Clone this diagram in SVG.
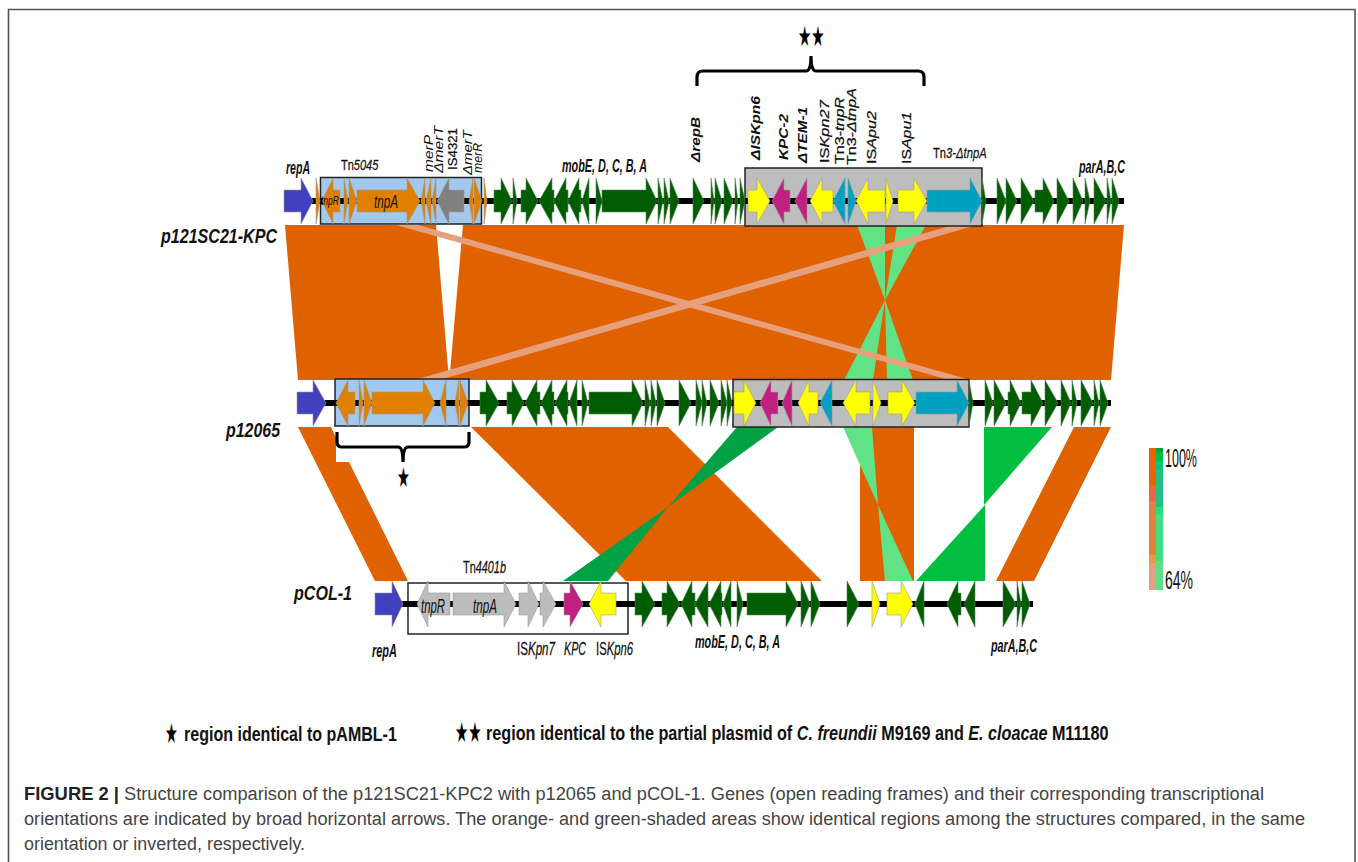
<svg xmlns="http://www.w3.org/2000/svg" width="1358" height="862" viewBox="0 0 1358 862">
<style>
text{font-family:"Liberation Sans",Arial,sans-serif;fill:#111}
.i{font-style:italic}.b{font-weight:bold}.bi{font-style:italic;font-weight:bold}
.m{stroke:#111;stroke-width:.25}
.star{font-family:"DejaVu Sans",sans-serif;font-size:28px;fill:#000}
.cap{font-size:18px;fill:#444}
.track{stroke:#000;stroke-width:6}
.gene polygon{stroke:#9a9a9a;stroke-width:.6}
.bl{fill:#4040c0}.or{fill:#e08000}.gy{fill:#808080}.lg{fill:#bcbcbc}.gn{fill:#005c00;stroke:#5a8a5a!important}.ye{fill:#ff0}.ma{fill:#c02080}.te{fill:#00a0c0}
.box{stroke:#222;stroke-width:1.5}
.o{fill:#e06100}.p{fill:#e6a07c}.g1{fill:#61e385}.g2{fill:#00a145}.g3{fill:#00bf40}
.brace{fill:none;stroke:#000;stroke-width:3.2}
</style>
<rect width="1358" height="862" fill="#fff"/>
<path d="M8.5 862V9.5H1355V862" fill="none" stroke="#555" stroke-width="1.6"/>

<g id="connectors">
<polygon class="o" points="285,225 436,225 449,380 298,380"/>
<polygon class="o" points="463,225 1124,225 1111,380 447,380 450,372"/>
<polygon class="g1" points="857,225 885,225 885,300"/>
<polygon class="g1" points="897,225 926,225 885,300"/>
<polygon class="g1" points="885,300 844,380 873,380"/>
<polygon class="g1" points="885,300 887,380 913,380"/>
<polygon class="p" points="396,225 418,225 971,380 949,380"/>
<polygon class="p" points="953,225 977,225 439,380 414,380"/>
<polygon class="o" points="298,427 331,427 336,438 336,462 349,462 408,581 375,581"/>
<polygon class="o" points="471,427 668,427 822,581 626,581"/>
<rect class="o" x="860" y="427" width="54" height="154"/>
<polygon class="o" points="1074,427 1111,427 1034,581 996,581"/>
<polygon class="g2" points="737,427 778,427 668,507"/>
<polygon class="g2" points="668,507 563,581 608,581"/>
<polygon class="g1" points="843,427 872,427 878,505"/>
<polygon class="g1" points="878,505 885,581 913,581"/>
<polygon class="g3" points="984,427 1052,427 984,505"/>
<polygon class="g3" points="985,505 985,581 916,581"/>
</g>

<g id="p121SC21-KPC" transform="translate(0,201)">
<rect class="box" x="320.5" y="-23.5" width="161" height="46.5" fill="#a3c8ee"/>
<rect class="box" x="745" y="-33" width="237" height="58" fill="#bdbdbd"/>
<line class="track" x1="284" x2="1124" y1="0" y2="0"/>
<g class="gene">
<polygon class="bl" points="284,-11 301,-11 301,-23 313,0 301,23 301,11 284,11"/>
<polygon class="or" points="316,-23 320,0 316,23"/>
<polygon class="or" points="340,-11 333,-11 333,-23 322,0 333,23 333,11 340,11"/>
<polygon class="or" points="344,-23 348,0 344,23"/>
<polygon class="or" points="349,-23 357,0 349,23"/>
<polygon class="or" points="357,-11 407,-11 407,-23 420,0 407,23 407,11 357,11"/>
<polygon class="or" points="425,-23 421,0 425,23"/>
<polygon class="or" points="431,-23 426,0 431,23"/>
<polygon class="or" points="436,-23 432,0 436,23"/>
<polygon class="gy" points="464,-11 449,-11 449,-23 437,0 449,23 449,11 464,11"/>
<polygon class="or" points="473,-23 469,0 473,23"/>
<polygon class="or" points="474,-23 482,0 474,23"/>
<polygon class="or" points="484,-23 487,0 484,23"/>
<polygon class="gn" points="494,-11 501,-11 501,-23 512,0 501,23 501,11 494,11"/>
<polygon class="gn" points="513,-23 517,0 513,23"/>
<polygon class="gn" points="521,-11 526,-11 526,-23 538,0 526,23 526,11 521,11"/>
<polygon class="gn" points="554,-11 552,-11 552,-23 539,0 552,23 552,11 554,11"/>
<polygon class="gn" points="568,-11 566,-11 566,-23 554,0 566,23 566,11 568,11"/>
<polygon class="gn" points="581,-11 579,-11 579,-23 568,0 579,23 579,11 581,11"/>
<polygon class="gn" points="589,-23 582,0 589,23"/>
<polygon class="gn" points="596,-23 602,0 596,23"/>
<polygon class="gn" points="602,-11 646,-11 646,-23 657,0 646,23 646,11 602,11"/>
<polygon class="gn" points="658,-23 663,0 658,23"/>
<polygon class="gn" points="664,-23 669,0 664,23"/>
<polygon class="gn" points="670,-23 679,0 670,23"/>
<polygon class="gn" points="693,-23 704,0 693,23"/>
<polygon class="gn" points="711,-23 714,0 711,23"/>
<polygon class="gn" points="715,-23 722,0 715,23"/>
<polygon class="gn" points="724,-23 733,0 724,23"/>
<polygon class="gn" points="735,-23 738,0 735,23"/>
<polygon class="gn" points="740,-23 745,0 740,23"/>
<polygon class="ye" points="748,-11 757,-11 757,-23 770,0 757,23 757,11 748,11"/>
<polygon class="ma" points="790,-11 784,-11 784,-23 772,0 784,23 784,11 790,11"/>
<polygon class="ma" points="807,-23 795,0 807,23"/>
<polygon class="ye" points="833,-11 822,-11 822,-23 810,0 822,23 822,11 833,11"/>
<polygon class="te" points="845,-23 833,0 845,23"/>
<polygon class="te" points="848,-23 856,0 848,23"/>
<polygon class="ye" points="885,-11 868,-11 868,-23 856,0 868,23 868,11 885,11"/>
<polygon class="ye" points="886,-23 893,0 886,23"/>
<polygon class="ye" points="898,-11 914,-11 914,-23 927,0 914,23 914,11 898,11"/>
<polygon class="te" points="927,-11 970,-11 970,-23 982,0 970,23 970,11 927,11"/>
<polygon class="gn" points="982,-23 986,0 982,23"/>
<polygon class="gn" points="997,-23 1006,0 997,23"/>
<polygon class="gn" points="1006,-23 1017,0 1006,23"/>
<polygon class="gn" points="1021,-23 1034,0 1021,23"/>
<polygon class="gn" points="1035,-11 1043,-11 1043,-23 1054,0 1043,23 1043,11 1035,11"/>
<polygon class="gn" points="1057,-23 1069,0 1057,23"/>
<polygon class="gn" points="1073,-23 1083,0 1073,23"/>
<polygon class="gn" points="1085,-23 1090,0 1085,23"/>
<polygon class="gn" points="1094,-23 1106,0 1094,23"/>
<polygon class="gn" points="1107,-23 1111,0 1107,23"/>
<polygon class="gn" points="1112,-23 1119,0 1112,23"/>
</g>
</g>

<g id="p12065" transform="translate(0,403)">
<rect class="box" x="335" y="-24" width="134" height="47" fill="#a3c8ee"/>
<rect class="box" x="733" y="-23.5" width="236" height="47.5" fill="#bdbdbd"/>
<line class="track" x1="297" x2="1111" y1="0" y2="0"/>
<g class="gene">
<polygon class="bl" points="297,-11 313,-11 313,-23 326,0 313,23 313,11 297,11"/>
<polygon class="or" points="355,-11 348,-11 348,-23 336,0 348,23 348,11 355,11"/>
<polygon class="or" points="359,-23 363,0 359,23"/>
<polygon class="or" points="364,-23 372,0 364,23"/>
<polygon class="or" points="372,-11 423,-11 423,-23 435,0 423,23 423,11 372,11"/>
<polygon class="or" points="446,-23 440,0 446,23"/>
<polygon class="or" points="459,-23 455,0 459,23"/>
<polygon class="or" points="460,-23 468,0 460,23"/>
<polygon class="gn" points="480,-11 486,-11 486,-23 499,0 486,23 486,11 480,11"/>
<polygon class="gn" points="507,-11 512,-11 512,-23 524,0 512,23 512,11 507,11"/>
<polygon class="gn" points="540,-11 537,-11 537,-23 525,0 537,23 537,11 540,11"/>
<polygon class="gn" points="554,-11 552,-11 552,-23 541,0 552,23 552,11 554,11"/>
<polygon class="gn" points="568,-11 567,-11 567,-23 555,0 567,23 567,11 568,11"/>
<polygon class="gn" points="577,-23 569,0 577,23"/>
<polygon class="gn" points="582,-23 588,0 582,23"/>
<polygon class="gn" points="589,-11 632,-11 632,-23 643,0 632,23 632,11 589,11"/>
<polygon class="gn" points="645,-23 650,0 645,23"/>
<polygon class="gn" points="651,-23 656,0 651,23"/>
<polygon class="gn" points="657,-23 665,0 657,23"/>
<polygon class="gn" points="679,-23 691,0 679,23"/>
<polygon class="gn" points="696,-23 702,0 696,23"/>
<polygon class="gn" points="702,-23 707,0 702,23"/>
<polygon class="gn" points="710,-23 719,0 710,23"/>
<polygon class="gn" points="721,-23 727,0 721,23"/>
<polygon class="gn" points="727,-23 732,0 727,23"/>
<polygon class="ye" points="734,-11 744,-11 744,-23 756,0 744,23 744,11 734,11"/>
<polygon class="ma" points="778,-11 771,-11 771,-23 760,0 771,23 771,11 778,11"/>
<polygon class="ma" points="792,-23 782,0 792,23"/>
<polygon class="ye" points="818,-11 809,-11 809,-23 798,0 809,23 809,11 818,11"/>
<polygon class="te" points="832,-23 820,0 832,23"/>
<polygon class="ye" points="870,-11 856,-11 856,-23 843,0 856,23 856,11 870,11"/>
<polygon class="ye" points="873,-23 881,0 873,23"/>
<polygon class="ye" points="888,-11 902,-11 902,-23 915,0 902,23 902,11 888,11"/>
<polygon class="te" points="916,-11 957,-11 957,-23 969,0 957,23 957,11 916,11"/>
<polygon class="gn" points="969,-23 973,0 969,23"/>
<polygon class="gn" points="985,-23 993,0 985,23"/>
<polygon class="gn" points="994,-23 1006,0 994,23"/>
<polygon class="gn" points="1008,-11 1010,-11 1010,-23 1021,0 1010,23 1010,11 1008,11"/>
<polygon class="gn" points="1022,-11 1031,-11 1031,-23 1043,0 1031,23 1031,11 1022,11"/>
<polygon class="gn" points="1045,-23 1058,0 1045,23"/>
<polygon class="gn" points="1061,-23 1071,0 1061,23"/>
<polygon class="gn" points="1072,-23 1077,0 1072,23"/>
<polygon class="gn" points="1081,-23 1093,0 1081,23"/>
<polygon class="gn" points="1094,-23 1099,0 1094,23"/>
<polygon class="gn" points="1100,-23 1108,0 1100,23"/>
</g>
</g>

<g id="pCOL-1" transform="translate(0,604)">
<rect class="box" x="408" y="-21" width="220" height="51" fill="#fff"/>
<line class="track" x1="376" x2="1033" y1="0" y2="0"/>
<g class="gene">
<polygon class="bl" points="375,-11 392,-11 392,-23 403,0 392,23 392,11 375,11"/>
<polygon class="lg" points="450,-11 428,-11 428,-23 417,0 428,23 428,11 450,11"/>
<polygon class="lg" points="453,-11 504,-11 504,-23 516,0 504,23 504,11 453,11"/>
<polygon class="lg" points="519,-11 528,-11 528,-23 539,0 528,23 528,11 519,11"/>
<polygon class="lg" points="540,-11 543,-11 543,-23 556,0 543,23 543,11 540,11"/>
<polygon class="ma" points="564,-11 570,-11 570,-23 583,0 570,23 570,11 564,11"/>
<polygon class="ye" points="616,-11 601,-11 601,-23 589,0 601,23 601,11 616,11"/>
<polygon class="gn" points="635,-11 642,-11 642,-23 655,0 642,23 642,11 635,11"/>
<polygon class="gn" points="662,-11 667,-11 667,-23 680,0 667,23 667,11 662,11"/>
<polygon class="gn" points="695,-11 692,-11 692,-23 681,0 692,23 692,11 695,11"/>
<polygon class="gn" points="708,-23 695,0 708,23"/>
<polygon class="gn" points="722,-11 721,-11 721,-23 709,0 721,23 721,11 722,11"/>
<polygon class="gn" points="731,-23 723,0 731,23"/>
<polygon class="gn" points="737,-23 743,0 737,23"/>
<polygon class="gn" points="747,-11 786,-11 786,-23 798,0 786,23 786,11 747,11"/>
<polygon class="gn" points="801,-23 810,0 801,23"/>
<polygon class="gn" points="811,-23 820,0 811,23"/>
<polygon class="gn" points="847,-23 859,0 847,23"/>
<polygon class="ye" points="872,-23 880,0 872,23"/>
<polygon class="ye" points="887,-11 901,-11 901,-23 913,0 901,23 901,11 887,11"/>
<polygon class="gn" points="924,-23 915,0 924,23"/>
<polygon class="gn" points="961,-11 958,-11 958,-23 947,0 958,23 958,11 961,11"/>
<polygon class="gn" points="975,-23 964,0 975,23"/>
<polygon class="gn" points="1003,-23 1016,0 1003,23"/>
<polygon class="gn" points="1017,-23 1021,0 1017,23"/>
<polygon class="gn" points="1022,-23 1030,0 1022,23"/>
</g>
</g>

<g id="braces">
<path class="brace" d="M697 86V77Q697 71 703 71H806Q811 71 811 56Q811 71 816 71H918Q924 71 924 77V86"/>
<path class="brace" d="M337 432V442Q337 447 342 447H398Q403 447 403 462Q403 447 408 447H464Q469 447 469 442V432"/>
<text class="star" transform="translate(798,46) scale(.53,1)">★★</text>
<text class="star" transform="translate(397,487) scale(.51,1)">★</text>
</g>

<g id="labels-top">
<text class="bi" x="286" y="174" font-size="19" textLength="24" lengthAdjust="spacingAndGlyphs">repA</text>
<text class="m" transform="translate(341,170) scale(.735,1)" font-size="15">Tn<tspan class="i">5045</tspan></text>
<text class="i" x="321" y="205" font-size="13" textLength="18" lengthAdjust="spacingAndGlyphs">tnpR</text>
<text class="i" x="374" y="208" font-size="18" textLength="24" lengthAdjust="spacingAndGlyphs">tnpA</text>
<text class="bi" x="562" y="172" font-size="18" textLength="85" lengthAdjust="spacingAndGlyphs">mobE, D, C, B, A</text>
<text class="bi" x="1079" y="173" font-size="18" textLength="46" lengthAdjust="spacingAndGlyphs">parA,B,C</text>
<text class="m" transform="translate(933,158) scale(.748,1)" font-size="15">Tn<tspan class="i">3-ΔtnpA</tspan></text>
<text class="i" transform="translate(433,172) rotate(-90)" font-size="12.5" textLength="37" lengthAdjust="spacingAndGlyphs">merP</text>
<text class="i" transform="translate(443,173) rotate(-90)" font-size="12.5" textLength="47" lengthAdjust="spacingAndGlyphs">ΔmerT</text>
<text class="m" transform="translate(457,170) rotate(-90)" font-size="12.5" textLength="42" lengthAdjust="spacingAndGlyphs">IS4321</text>
<text class="i" transform="translate(472,175) rotate(-90)" font-size="12.5" textLength="45" lengthAdjust="spacingAndGlyphs">ΔmerT</text>
<text class="i" transform="translate(482,173) rotate(-90)" font-size="12.5" textLength="30" lengthAdjust="spacingAndGlyphs">merR</text>
<text class="bi" transform="translate(700,162) rotate(-90)" font-size="12.5" textLength="45" lengthAdjust="spacingAndGlyphs">ΔrepB</text>
<text class="bi" transform="translate(760,160) rotate(-90)" font-size="12.5" textLength="64" lengthAdjust="spacingAndGlyphs">ΔISKpn6</text>
<text class="bi" transform="translate(788,160) rotate(-90)" font-size="12.5" textLength="46" lengthAdjust="spacingAndGlyphs">KPC-2</text>
<text class="bi" transform="translate(807,163) rotate(-90)" font-size="12.5" textLength="56" lengthAdjust="spacingAndGlyphs">ΔTEM-1</text>
<text class="m" transform="translate(829,163) rotate(-90) scale(1.26,1)" font-size="13">IS<tspan class="i">Kpn27</tspan></text>
<text class="m" transform="translate(844,164) rotate(-90) scale(1.236,1)" font-size="13">Tn3-<tspan class="i">tnpR</tspan></text>
<text class="m" transform="translate(856,165) rotate(-90) scale(1.237,1)" font-size="13">Tn3-<tspan class="i">ΔtnpA</tspan></text>
<text class="m" transform="translate(876,164) rotate(-90) scale(1.243,1)" font-size="13">IS<tspan class="i">Apu2</tspan></text>
<text class="m" transform="translate(911,164) rotate(-90) scale(1.22,1)" font-size="13">IS<tspan class="i">Apu1</tspan></text>
</g>

<g id="labels-plasmids">
<text class="bi" x="161" y="243" font-size="21" textLength="116" lengthAdjust="spacingAndGlyphs">p121SC21-KPC</text>
<text class="bi" x="226" y="437" font-size="21" textLength="54" lengthAdjust="spacingAndGlyphs">p12065</text>
<text class="bi" x="294" y="600" font-size="21" textLength="58" lengthAdjust="spacingAndGlyphs">pCOL-1</text>
</g>

<g id="labels-bottom">
<text class="m" transform="translate(463,573) scale(.64,1)" font-size="17">Tn<tspan class="i">4401b</tspan></text>
<text class="i" x="421" y="613" font-size="20" textLength="24" lengthAdjust="spacingAndGlyphs">tnpR</text>
<text class="i" x="473" y="613" font-size="20" textLength="24" lengthAdjust="spacingAndGlyphs">tnpA</text>
<text class="bi" x="372" y="657" font-size="18" textLength="25" lengthAdjust="spacingAndGlyphs">repA</text>
<text class="m" transform="translate(517,655) scale(.644,1)" font-size="18">IS<tspan class="i">Kpn7</tspan></text>
<text class="i m" transform="translate(564,655) scale(.595,1)" font-size="18">KPC</text>
<text class="m" transform="translate(596,655) scale(.627,1)" font-size="18">IS<tspan class="i">Kpn6</tspan></text>
<text class="bi" x="695" y="648" font-size="18" textLength="85" lengthAdjust="spacingAndGlyphs">mobE, D, C, B, A</text>
<text class="bi" x="991" y="652" font-size="18" textLength="46" lengthAdjust="spacingAndGlyphs">parA,B,C</text>
</g>

<g id="scale">
<rect x="1149" y="448" width="7" height="37" fill="#e86400"/>
<rect x="1149" y="485" width="7" height="16" fill="#e8654a"/>
<rect x="1149" y="501" width="7" height="54" fill="#e2803f"/>
<rect x="1149" y="555" width="7" height="8" fill="#e2a03c"/>
<rect x="1149" y="563" width="7" height="27" fill="#e4a084"/>
<rect x="1156" y="448" width="7" height="4" fill="#00a33f"/>
<rect x="1156" y="452" width="7" height="9" fill="#00c040"/>
<rect x="1156" y="461" width="7" height="9" fill="#00c878"/>
<rect x="1156" y="470" width="7" height="37" fill="#20c080"/>
<rect x="1156" y="507" width="7" height="8" fill="#20e080"/>
<rect x="1156" y="515" width="7" height="46" fill="#40e080"/>
<rect x="1156" y="561" width="7" height="29" fill="#60e085"/>
<text x="1165" y="467" font-size="25" textLength="32" lengthAdjust="spacingAndGlyphs">100%</text>
<text x="1165" y="589" font-size="25" textLength="28" lengthAdjust="spacingAndGlyphs">64%</text>
</g>

<g id="legend">
<text class="star" transform="translate(165,743) scale(.51,1)">★</text>
<text class="b" transform="translate(184,741) scale(.764,1)" font-size="21">region identical to pAMBL-1</text>
<text class="star" transform="translate(455,742) scale(.53,1)">★★</text>
<text class="b" transform="translate(486,740) scale(.77,1)" font-size="21">region identical to the partial plasmid of <tspan class="i">C. freundii</tspan> M9169 and <tspan class="i">E. cloacae</tspan> M11180</text>
</g>

<g id="caption">
<text class="cap b" style="fill:#222" x="24" y="800" textLength="95" lengthAdjust="spacingAndGlyphs">FIGURE 2 |</text>
<text class="cap" x="124" y="800" textLength="1140" lengthAdjust="spacingAndGlyphs">Structure comparison of the p121SC21-KPC2 with p12065 and pCOL-1. Genes (open reading frames) and their corresponding transcriptional</text>
<text class="cap" x="24" y="825" textLength="1281" lengthAdjust="spacingAndGlyphs">orientations are indicated by broad horizontal arrows. The orange- and green-shaded areas show identical regions among the structures compared, in the same</text>
<text class="cap" x="24" y="850" textLength="281" lengthAdjust="spacingAndGlyphs">orientation or inverted, respectively.</text>
</g>
</svg>
